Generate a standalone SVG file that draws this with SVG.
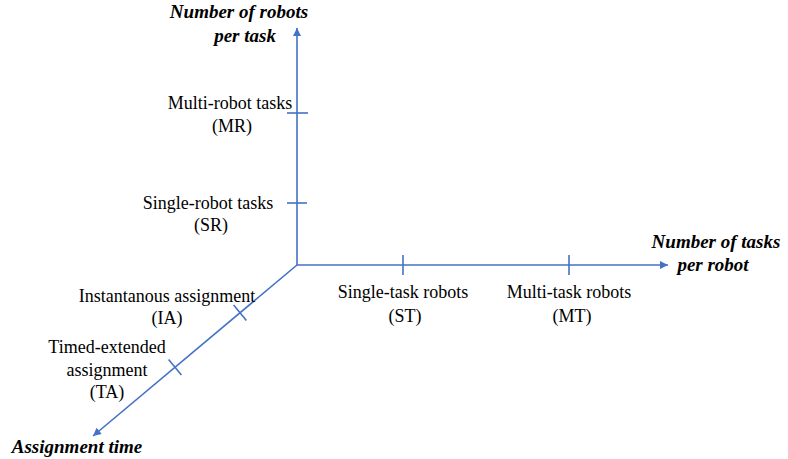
<svg xmlns="http://www.w3.org/2000/svg" width="788" height="459" viewBox="0 0 788 459">
<defs>
<marker id="arr" viewBox="0 0 10 10" refX="10" refY="5" markerWidth="10" markerHeight="8" markerUnits="userSpaceOnUse" orient="auto">
<path d="M0,0 L10,5 L0,10 z" fill="#4472C4"/>
</marker>
</defs>
<style>
.ax{stroke:#4472C4;stroke-width:1.6;fill:none}
.tk{stroke:#4472C4;stroke-width:1.6}
text{font-family:'Liberation Serif','Times New Roman',serif;fill:#000;text-anchor:middle}
.lb{font-size:18px}
.tt{font-size:19px;font-weight:bold;font-style:italic}
</style>
<rect width="788" height="459" fill="#fff"/>
<g id="connectors">
<line class="ax" x1="297" y1="265" x2="297" y2="28" marker-end="url(#arr)"/>
<line class="ax" x1="297" y1="265" x2="668" y2="265" marker-end="url(#arr)"/>
<line class="ax" x1="297" y1="265" x2="93" y2="436" marker-end="url(#arr)"/>
</g>
<g id="ticks">
<line class="tk" x1="287" y1="113" x2="308" y2="113"/>
<line class="tk" x1="287" y1="203" x2="307" y2="203"/>
<line class="tk" x1="403" y1="255" x2="403" y2="275"/>
<line class="tk" x1="569" y1="255" x2="569" y2="275"/>
<line class="tk" x1="233.6" y1="305.1" x2="246.4" y2="320.5"/>
<line class="tk" x1="168.6" y1="359.6" x2="181.4" y2="375"/>
</g>
<g id="title-y"><text class="tt" x="239" y="18">Number of robots</text><text class="tt" x="245" y="42">per task</text></g>
<g id="title-x"><text class="tt" x="716" y="248">Number of tasks</text><text class="tt" x="713" y="271">per robot</text></g>
<g id="title-z"><text class="tt" x="77" y="453">Assignment time</text></g>
<g id="MR"><text class="lb" x="230" y="109">Multi-robot tasks</text><text class="lb" x="232" y="132">(MR)</text></g>
<g id="SR"><text class="lb" x="208" y="209">Single-robot tasks</text><text class="lb" x="211" y="231">(SR)</text></g>
<g id="ST"><text class="lb" x="403" y="298">Single-task robots</text><text class="lb" x="405" y="322">(ST)</text></g>
<g id="MT"><text class="lb" x="569" y="298">Multi-task robots</text><text class="lb" x="572" y="322">(MT)</text></g>
<g id="IA"><text class="lb" x="167" y="302">Instantanous assignment</text><text class="lb" x="167" y="324">(IA)</text></g>
<g id="TA"><text class="lb" x="107" y="353">Timed-extended</text><text class="lb" x="107" y="376">assignment</text><text class="lb" x="107" y="398">(TA)</text></g>
</svg>
